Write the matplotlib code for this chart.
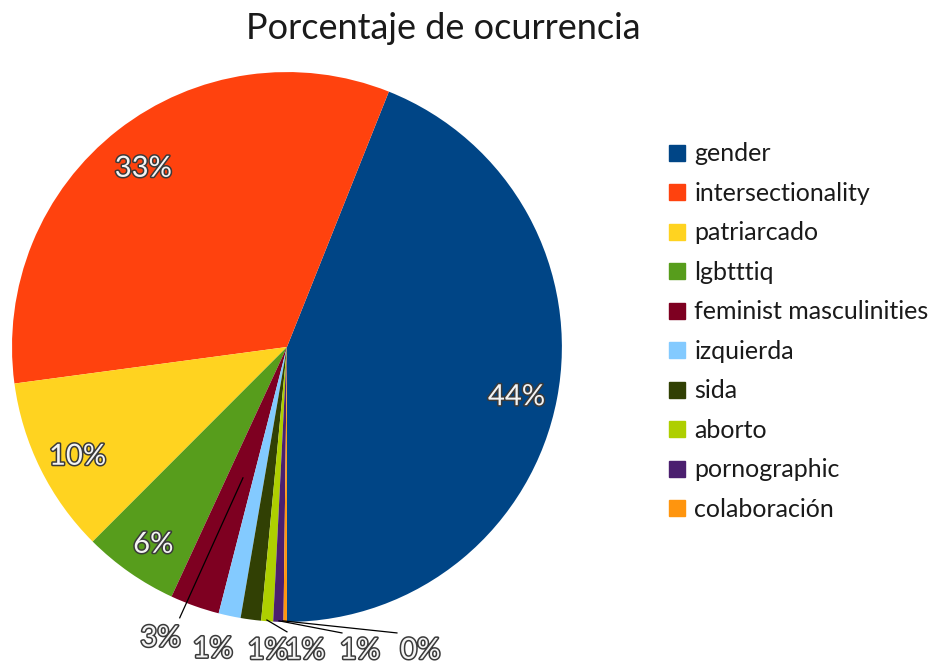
import matplotlib
matplotlib.use("Agg")
import numpy as np
import matplotlib.pyplot as plt
import matplotlib.patheffects as pe

plt.rcParams['font.family'] = ['Lato', 'DejaVu Sans']

# Share of occurrences per term (percent)
categories = ['gender', 'intersectionality', 'patriarcado', 'lgbtttiq',
              'feminist masculinities', 'izquierda', 'sida', 'aborto',
              'pornographic', 'colaboración']
values = [44.0, 33.2, 10.4, 5.6, 2.9, 1.3, 1.2, 0.7, 0.6, 0.2]
colors = ['#004586', '#ff420e', '#ffd320', '#579d1c', '#7e0021',
          '#83caff', '#314004', '#aecf00', '#4b1f6f', '#ff950e']

# Small slices get their label below the pie (x, y in pie units)
outside_pos = {
    4: (-0.46, -1.06),
    5: (-0.27, -1.10),
    6: (-0.07, -1.105),
    7: (0.065, -1.105),
    8: (0.265, -1.105),
    9: (0.485, -1.105),
}
# leader lines: slice index -> (start, end)
leaders = {
    4: ((-0.16, -0.476), (-0.39, -0.985)),
    7: ((-0.073, -0.993), (0.0, -1.036)),
    8: ((-0.029, -0.996), (0.20, -1.04)),
    9: ((-0.015, -0.996), (0.40, -1.04)),
}

fig = plt.figure(figsize=(9.53, 6.70), dpi=100)
ax = fig.add_axes([0.0126, 0.0716, 0.577, 0.821])

wedges, _ = ax.pie(values, colors=colors, startangle=-90,
                   wedgeprops=dict(linewidth=0))
ax.set_xlim(-1, 1)
ax.set_ylim(-1, 1)

outline = [pe.withStroke(linewidth=2.2, foreground='#3a3a3a')]
total = sum(values)
for i, (w, v) in enumerate(zip(wedges, values)):
    txt = f"{round(v / total * 100):.0f}%"
    if i in outside_pos:
        x, y = outside_pos[i]
    else:
        ang = np.deg2rad((w.theta1 + w.theta2) / 2)
        x, y = 0.85 * np.cos(ang), 0.85 * np.sin(ang) - 0.022
    ax.text(x, y, txt, ha='center', va='center', fontsize=21,
            color='#f4f4f4', path_effects=outline, clip_on=False)

for i, (p0, p1) in leaders.items():
    ax.plot([p0[0], p1[0]], [p0[1], p1[1]], color='black', lw=0.9,
            clip_on=False)

fig.text(0.465, 0.958, 'Porcentaje de ocurrencia', ha='center', va='center',
         fontsize=26, color='#1a1a1a')

handles = [plt.Line2D([], [], marker='s', linestyle='', markersize=11,
                      markerfacecolor=c, markeredgecolor=c) for c in colors]
fig.legend(handles, categories, loc='upper left',
           bbox_to_anchor=(0.688, 0.806), frameon=False, fontsize=18,
           handlelength=0.7, handletextpad=0.35, labelspacing=0.66,
           borderpad=0, labelcolor='#1a1a1a')

fig.savefig('out.png', dpi=100)
